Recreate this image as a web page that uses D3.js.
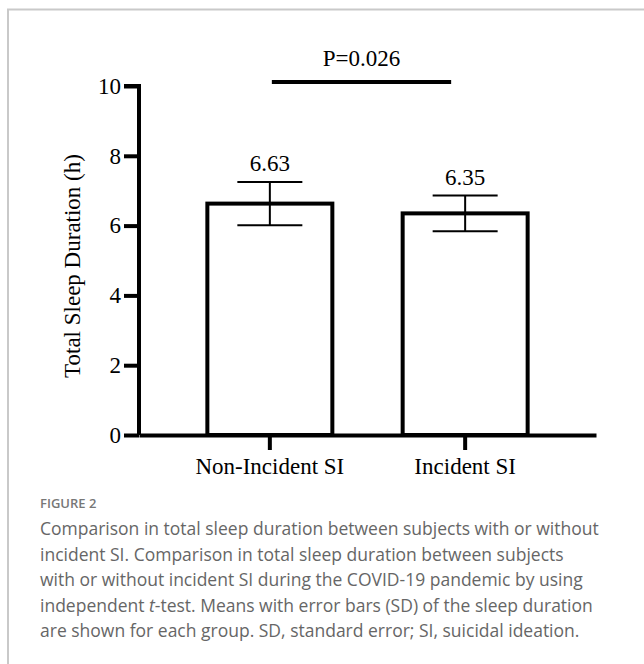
<!DOCTYPE html>
<html>
<head>
<meta charset="utf-8">
<script src="https://cdn.jsdelivr.net/npm/d3@7"></script>
<style>
  html, body { margin: 0; padding: 0; background: #fff; }
  svg { display: block; }
</style>
</head>
<body>
<script>
const categories = ["Non-Incident SI", "Incident SI"];
const means = [6.63, 6.35];
const sds = [0.62, 0.51];
const valueLabels = ["6.63", "6.35"];
const yTicks = [0, 2, 4, 6, 8, 10];
const pLabel = "P=0.026";
const yTitle = "Total Sleep Duration (h)";
const figLabel = "FIGURE 2";
const captionLines = [
  [{t: "Comparison in total sleep duration between subjects with or without"}],
  [{t: "incident SI. Comparison in total sleep duration between subjects"}],
  [{t: "with or without incident SI during the COVID-19 pandemic by using"}],
  [{t: "independent "}, {t: "t", i: true}, {t: "-test. Means with error bars (SD) of the sleep duration"}],
  [{t: "are shown for each group. SD, standard error; SI, suicidal ideation."}]
];

const W = 644, H = 664;
const svg = d3.select("body").append("svg").attr("width", W).attr("height", H);

// frame
svg.append("path")
  .attr("d", `M8,${H + 5} V9.5 H${W + 5}`)
  .attr("fill", "none").attr("stroke", "#c9c9c9").attr("stroke-width", 2);

const serif = "'Liberation Serif', 'Times New Roman', serif";
const fs = 23;

const y = d3.scaleLinear().domain([0, 10]).range([435, 86]);
const x = d3.scaleBand().domain(categories).range([139, 596])
  .paddingInner(0.36).paddingOuter(0.35);
const bw = x.bandwidth();
const data = categories.map((c, i) => ({c, m: means[i], sd: sds[i], lab: valueLabels[i]}));

// y axis
const gy = svg.append("g").attr("transform", `translate(${x.range()[0]},0)`)
  .call(d3.axisLeft(y).tickValues(yTicks).tickFormat(d3.format("d"))
    .tickSize(15).tickSizeOuter(0).tickPadding(3));
gy.select(".domain").attr("stroke", "#000").attr("stroke-width", 4)
  .attr("d", `M-15,${y(10)} H0 V${y(0)}`).attr("fill", "none");
gy.selectAll(".tick line").attr("stroke", "#000").attr("stroke-width", 4);
gy.selectAll(".tick text").attr("font-family", serif).attr("font-size", fs).attr("fill", "#000");

// x axis
const gx = svg.append("g").attr("transform", `translate(0,${y(0)})`)
  .call(d3.axisBottom(x).tickSize(15).tickSizeOuter(0).tickPadding(8));
gx.select(".domain").attr("stroke", "#000").attr("stroke-width", 4);
gx.selectAll(".tick line").attr("stroke", "#000").attr("stroke-width", 4);
gx.selectAll(".tick text").attr("font-family", serif).attr("font-size", fs).attr("fill", "#000");

// bars
svg.append("g").selectAll("rect").data(data).join("rect")
  .attr("x", d => x(d.c)).attr("width", bw)
  .attr("y", d => y(d.m)).attr("height", d => y(0) - y(d.m))
  .attr("fill", "#fff").attr("stroke", "#000").attr("stroke-width", 4);

// error bars
const eb = svg.append("g").selectAll("g").data(data).join("g")
  .attr("transform", d => `translate(${x(d.c) + bw / 2},0)`);
eb.append("line").attr("y1", d => y(d.m + d.sd)).attr("y2", d => y(d.m - d.sd))
  .attr("stroke", "#000").attr("stroke-width", 2);
eb.append("line").attr("x1", -bw * 0.26).attr("x2", bw * 0.26)
  .attr("y1", d => y(d.m + d.sd)).attr("y2", d => y(d.m + d.sd))
  .attr("stroke", "#000").attr("stroke-width", 2);
eb.append("line").attr("x1", -bw * 0.26).attr("x2", bw * 0.26)
  .attr("y1", d => y(d.m - d.sd)).attr("y2", d => y(d.m - d.sd))
  .attr("stroke", "#000").attr("stroke-width", 2);
eb.append("text").attr("y", d => y(d.m + d.sd) - 11)
  .attr("text-anchor", "middle").attr("font-family", serif).attr("font-size", fs)
  .text(d => d.lab);

// significance line
const c0 = x(categories[0]) + bw / 2, c1 = x(categories[1]) + bw / 2;
svg.append("line").attr("x1", c0 + 2).attr("x2", c1 - 14)
  .attr("y1", y(10) - 4).attr("y2", y(10) - 4)
  .attr("stroke", "#000").attr("stroke-width", 4);
svg.append("text").attr("x", (c0 + c1) / 2 - 6).attr("y", 66)
  .attr("text-anchor", "middle").attr("font-family", serif).attr("font-size", fs)
  .text(pLabel);

// y title
svg.append("text").attr("transform", "translate(80,266) rotate(-90)")
  .attr("text-anchor", "middle").attr("font-family", serif).attr("font-size", fs)
  .text(yTitle);

// caption
const sans = "'Open Sans', 'Noto Sans', sans-serif";
svg.append("text").attr("x", 40).attr("y", 508)
  .attr("font-family", sans).attr("font-size", 13).attr("font-weight", 600).attr("fill", "#777")
  .text(figLabel);
const cap = svg.append("g");
captionLines.forEach((parts, i) => {
  const t = cap.append("text").attr("x", 40).attr("y", 535 + i * 25.5)
    .attr("font-family", sans).attr("font-size", 17.5).attr("fill", "#666");
  parts.forEach(p => {
    const ts = t.append("tspan").text(p.t);
    if (p.i) ts.attr("font-style", "italic");
  });
});
</script>
</body>
</html>
